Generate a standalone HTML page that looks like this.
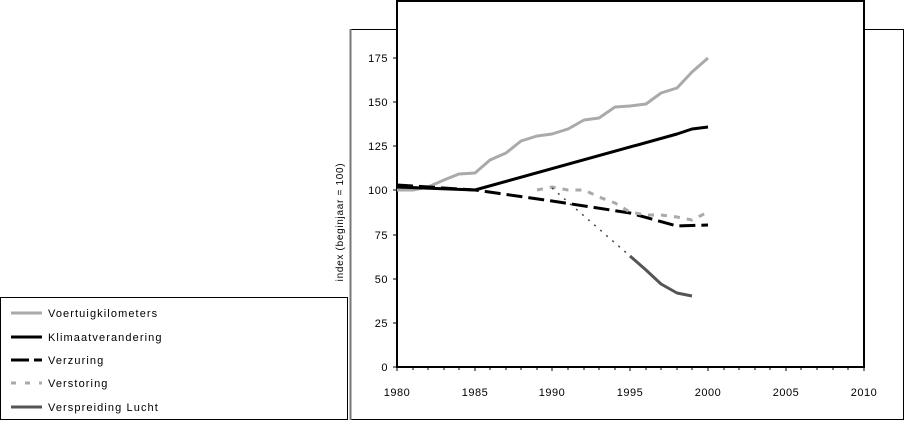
<!DOCTYPE html>
<html><head><style>
body{margin:0;background:#fff;}
svg text{font-family:"Liberation Sans",sans-serif;font-size:11px;fill:#000;}
</style></head><body>
<svg width="904" height="420" xmlns="http://www.w3.org/2000/svg">
<rect x="350.5" y="29.5" width="553" height="390" fill="none" stroke="#000" stroke-width="1"/>
<line x1="350.5" y1="29" x2="350.5" y2="420" stroke="#777" stroke-width="2"/>
<rect x="397" y="1" width="467" height="366" fill="#fff" stroke="#000" stroke-width="2"/>
<g stroke="#000" stroke-width="1">
<line x1="393" y1="58" x2="397" y2="58"/><line x1="393" y1="102" x2="397" y2="102"/>
<line x1="393" y1="146" x2="397" y2="146"/><line x1="393" y1="190" x2="397" y2="190"/>
<line x1="393" y1="235" x2="397" y2="235"/><line x1="393" y1="279" x2="397" y2="279"/>
<line x1="393" y1="323" x2="397" y2="323"/><line x1="393" y1="367" x2="397" y2="367"/>
</g>
<g font-size="11" text-anchor="end" style="letter-spacing:0.5px">
<text x="388" y="62">175</text><text x="388" y="106">150</text><text x="388" y="150">125</text>
<text x="388" y="194">100</text><text x="388" y="239">75</text><text x="388" y="283">50</text>
<text x="388" y="327">25</text><text x="388" y="371">0</text>
</g>
<g text-anchor="middle" style="letter-spacing:0.5px">
<text x="397" y="396">1980</text><text x="475" y="396">1985</text><text x="552" y="396">1990</text>
<text x="630" y="396">1995</text><text x="708" y="396">2000</text><text x="786" y="396">2005</text>
<text x="864" y="396">2010</text>
</g>
<text transform="translate(343,222) rotate(-90)" text-anchor="middle" style="font-size:10px;letter-spacing:0.7px">index (beginjaar = 100)</text>
<g fill="none" stroke-linejoin="round">
<polyline stroke="#aaa" stroke-width="3" points="397,190 413,190 428,187 444,180 459,174 475,173 490,160 506,153 521,141 537,136 552,134 568,129 584,120 599,118 615,107 630,106 646,104 661,93 677,88 692,72 708,58"/>
<polyline stroke="#000" stroke-width="3" points="397,187 475,190 677,134 692,129 708,127"/>
<polyline stroke="#000" stroke-width="3" stroke-dasharray="16,6" points="397,185 475,190 552,201 630,213 677,226 708,225"/>
<polyline stroke="#aaa" stroke-width="3" stroke-dasharray="6,7" points="537,190 552,187 568,190 584,190 599,197 615,203 630,212 646,215 661,215 677,217 692,220 708,212"/>
<polyline stroke="#444" stroke-width="1.5" stroke-dasharray="2,6" points="552,188 630,256"/>
<polyline stroke="#555" stroke-width="3" points="630,256 646,270 661,284 677,293 692,296"/>
</g>
<rect x="0.5" y="297.5" width="347" height="122" fill="#fff" stroke="#000"/>
<g stroke-width="3">
<line x1="11" y1="313" x2="42" y2="313" stroke="#aaa"/>
<line x1="11" y1="337" x2="42" y2="337" stroke="#000"/>
<line x1="11" y1="360" x2="42" y2="360" stroke="#000" stroke-dasharray="18,5"/>
<line x1="11" y1="383" x2="42" y2="383" stroke="#aaa" stroke-dasharray="5,9"/>
<line x1="11" y1="407" x2="42" y2="407" stroke="#555"/>
</g>
<g style="letter-spacing:1.1px">
<text x="48" y="317">Voertuigkilometers</text>
<text x="48" y="341">Klimaatverandering</text>
<text x="48" y="364">Verzuring</text>
<text x="48" y="387">Verstoring</text>
<text x="48" y="411">Verspreiding Lucht</text>
</g>
<g stroke="#000" stroke-width="1">
<path d="M397,367v4M413,367v3M428,367v3M444,367v3M459,367v3M475,367v4M490,367v3M506,367v3M521,367v3M537,367v3M552,367v4M568,367v3M584,367v3M599,367v3M615,367v3M630,367v4M646,367v3M661,367v3M677,367v3M692,367v3M708,367v4M724,367v3M739,367v3M755,367v3M770,367v3M786,367v4M801,367v3M817,367v3M833,367v3M848,367v3M864,367v4"/>
</g>
</svg>
</body></html>
